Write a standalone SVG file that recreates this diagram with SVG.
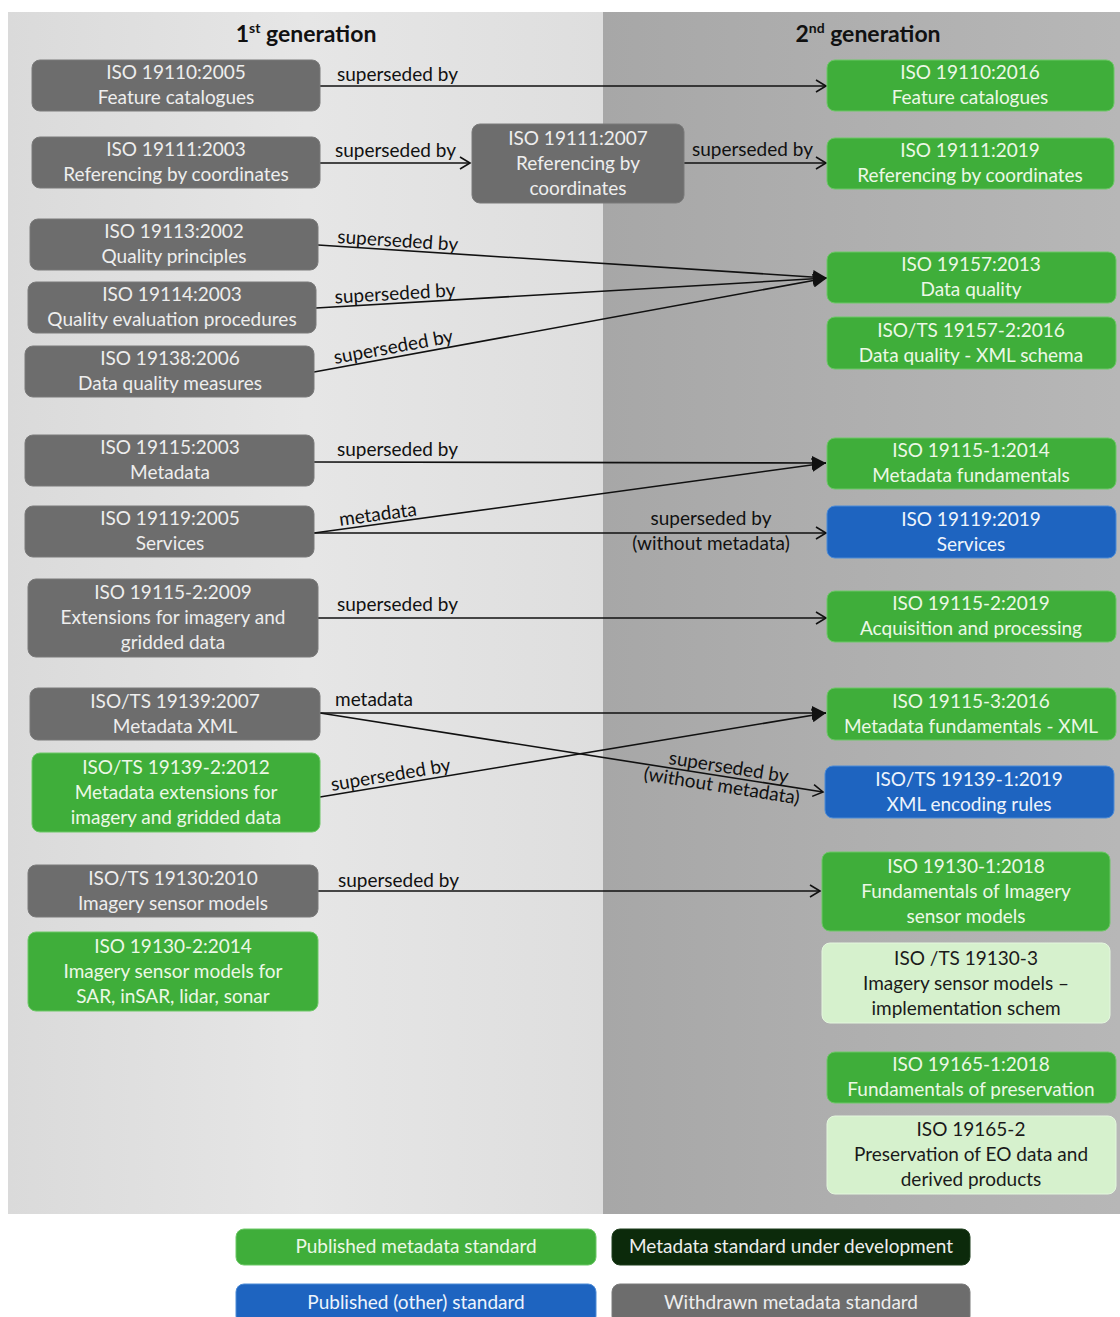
<svg xmlns="http://www.w3.org/2000/svg" width="1120" height="1317" viewBox="0 0 1120 1317">
  <defs>
    <linearGradient id="bgLeft" x1="0" y1="0" x2="1" y2="0">
      <stop offset="0" stop-color="#dadada"/>
      <stop offset="0.5" stop-color="#e6e6e6"/>
      <stop offset="1" stop-color="#dedede"/>
    </linearGradient>
    <linearGradient id="bgRight" x1="0" y1="0" x2="1" y2="0">
      <stop offset="0" stop-color="#a7a7a7"/>
      <stop offset="1" stop-color="#b7b7b7"/>
    </linearGradient>
    <marker id="arrowOpen" markerUnits="userSpaceOnUse" markerWidth="14" markerHeight="14" refX="11" refY="7" orient="auto">
      <path d="M1,1 L11,7 L1,13" fill="none" stroke="#111" stroke-width="1.6"/>
    </marker>
    <marker id="arrowSolid" markerUnits="userSpaceOnUse" markerWidth="16" markerHeight="14" refX="14" refY="7" orient="auto">
      <path d="M0,0 L14,7 L0,14 z" fill="#111"/>
    </marker>
  </defs>
  <style>
    .node rect { rx: 8px; ry: 8px; }
    .gray rect { fill: #6d6d6d; stroke: #7a7a7a; stroke-width: 1; }
    .green rect { fill: #3fae3a; stroke: #6cc866; stroke-width: 1; }
    .blue rect { fill: #1e64c0; stroke: #4c8bd6; stroke-width: 1; }
    .light rect { fill: #d6f1cd; stroke: #e4f7de; stroke-width: 1; }
    .dark rect { fill: #0c2a0b; stroke: #1f3f1e; stroke-width: 1; }
    .node text { font-family: Lato, "Liberation Sans", sans-serif; font-size: 19px; text-anchor: middle; fill: #eeeeee; }
    .green text { fill: #ecf8e6; }
    .blue text { fill: #eef4fc; }
    .light text { fill: #1a1a1a; }
    .head { font-family: Lato, "Liberation Sans", sans-serif; font-size: 23px; font-weight: bold; fill: #111; text-anchor: middle; }
    .lbl { font-family: Lato, "Liberation Sans", sans-serif; font-size: 19px; fill: #111; }
    .mid { text-anchor: middle; }
    #connectors line { stroke: #111; stroke-width: 1.6; fill: none; }
    .open { marker-end: url(#arrowOpen); }
    .solid { marker-end: url(#arrowSolid); }
  </style>

  <!-- page background and the two generation panels -->
  <rect x="0" y="0" width="1120" height="1317" fill="#ffffff"/>
  <rect x="8" y="12" width="596" height="1202" fill="url(#bgLeft)"/>
  <rect x="603" y="12" width="517" height="1202" fill="url(#bgRight)"/>

  <text class="head" x="306" y="42">1<tspan font-size="14" dy="-9">st</tspan><tspan dy="9"> generation</tspan></text>
  <text class="head" x="868" y="42">2<tspan font-size="14" dy="-9">nd</tspan><tspan dy="9"> generation</tspan></text>

  <!-- connectors -->
  <g id="connectors">
    <line class="open" x1="320" y1="86" x2="826" y2="86"/>
    <line class="open" x1="320" y1="163" x2="470" y2="163"/>
    <line class="open" x1="684" y1="163" x2="826" y2="163"/>
    <line class="solid" x1="318" y1="245" x2="827" y2="278"/>
    <line class="solid" x1="316" y1="308" x2="827" y2="278"/>
    <line class="solid" x1="314" y1="372" x2="827" y2="278"/>
    <line class="solid" x1="314" y1="462" x2="826" y2="463"/>
    <line class="solid" x1="314" y1="533" x2="826" y2="463"/>
    <line class="open" x1="314" y1="533" x2="826" y2="533"/>
    <line class="open" x1="318" y1="618" x2="826" y2="618"/>
    <line class="solid" x1="320" y1="713" x2="826" y2="713"/>
    <line class="solid" x1="320" y1="797" x2="826" y2="713"/>
    <line class="open" x1="320" y1="713" x2="823" y2="792"/>
    <line class="open" x1="318" y1="891" x2="820" y2="891"/>

    <text class="lbl" x="337" y="81">superseded by</text>
    <text class="lbl" x="335" y="157">superseded by</text>
    <text class="lbl" x="692" y="156">superseded by</text>
    <text class="lbl" transform="translate(337,243) rotate(3.7)">superseded by</text>
    <text class="lbl" transform="translate(335,303.5) rotate(-3.36)">superseded by</text>
    <text class="lbl" transform="translate(335,364) rotate(-10.38)">superseded by</text>
    <text class="lbl" x="337" y="456">superseded by</text>
    <text class="lbl" transform="translate(340,526) rotate(-7.78)">metadata</text>
    <text class="lbl mid" x="711" y="525">superseded by</text>
    <text class="lbl mid" x="711" y="550">(without metadata)</text>
    <text class="lbl" x="337" y="611">superseded by</text>
    <text class="lbl" x="335" y="706">metadata</text>
    <text class="lbl" transform="translate(332,791) rotate(-9.46)">superseded by</text>
    <text class="lbl" transform="translate(668,764) rotate(8.93)">superseded by</text>
    <text class="lbl" transform="translate(643,780) rotate(8.93)">(without metadata)</text>
    <text class="lbl" x="338" y="887">superseded by</text>
  </g>

  <!-- 1st generation -->
  <g id="iso19110-2005" class="node gray"><rect x="32" y="60" width="288" height="51"/><text x="176" y="79">ISO 19110:2005</text><text x="176" y="104">Feature catalogues</text></g>
  <g id="iso19111-2003" class="node gray"><rect x="32" y="137" width="288" height="51"/><text x="176" y="156">ISO 19111:2003</text><text x="176" y="181">Referencing by coordinates</text></g>
  <g id="iso19111-2007" class="node gray"><rect x="472" y="124" width="212" height="79"/><text x="578" y="145">ISO 19111:2007</text><text x="578" y="170">Referencing by</text><text x="578" y="195">coordinates</text></g>
  <g id="iso19113-2002" class="node gray"><rect x="30" y="219" width="288" height="51"/><text x="174" y="238">ISO 19113:2002</text><text x="174" y="263">Quality principles</text></g>
  <g id="iso19114-2003" class="node gray"><rect x="28" y="282" width="288" height="51"/><text x="172" y="301">ISO 19114:2003</text><text x="172" y="326">Quality evaluation procedures</text></g>
  <g id="iso19138-2006" class="node gray"><rect x="25" y="346" width="289" height="51"/><text x="170" y="365">ISO 19138:2006</text><text x="170" y="390">Data quality measures</text></g>
  <g id="iso19115-2003" class="node gray"><rect x="25" y="435" width="289" height="51"/><text x="170" y="454">ISO 19115:2003</text><text x="170" y="479">Metadata</text></g>
  <g id="iso19119-2005" class="node gray"><rect x="25" y="506" width="289" height="51"/><text x="170" y="525">ISO 19119:2005</text><text x="170" y="550">Services</text></g>
  <g id="iso19115-2-2009" class="node gray"><rect x="28" y="579" width="290" height="78"/><text x="173" y="599">ISO 19115-2:2009</text><text x="173" y="624">Extensions for imagery and</text><text x="173" y="649">gridded data</text></g>
  <g id="iso19139-2007" class="node gray"><rect x="30" y="688" width="290" height="52"/><text x="175" y="708">ISO/TS 19139:2007</text><text x="175" y="733">Metadata XML</text></g>
  <g id="iso19139-2-2012" class="node green"><rect x="32" y="753" width="288" height="79"/><text x="176" y="774">ISO/TS 19139-2:2012</text><text x="176" y="799">Metadata extensions for</text><text x="176" y="824">imagery and gridded data</text></g>
  <g id="iso19130-2010" class="node gray"><rect x="28" y="865" width="290" height="52"/><text x="173" y="885">ISO/TS 19130:2010</text><text x="173" y="910">Imagery sensor models</text></g>
  <g id="iso19130-2-2014" class="node green"><rect x="28" y="932" width="290" height="79"/><text x="173" y="953">ISO 19130-2:2014</text><text x="173" y="978">Imagery sensor models for</text><text x="173" y="1003">SAR, inSAR, lidar, sonar</text></g>

  <!-- 2nd generation -->
  <g id="iso19110-2016" class="node green"><rect x="827" y="60" width="287" height="51"/><text x="970" y="79">ISO 19110:2016</text><text x="970" y="104">Feature catalogues</text></g>
  <g id="iso19111-2019" class="node green"><rect x="827" y="138" width="287" height="51"/><text x="970" y="157">ISO 19111:2019</text><text x="970" y="182">Referencing by coordinates</text></g>
  <g id="iso19157-2013" class="node green"><rect x="827" y="252" width="289" height="51"/><text x="971" y="271">ISO 19157:2013</text><text x="971" y="296">Data quality</text></g>
  <g id="iso19157-2-2016" class="node green"><rect x="827" y="317" width="289" height="52"/><text x="971" y="337">ISO/TS 19157-2:2016</text><text x="971" y="362">Data quality - XML schema</text></g>
  <g id="iso19115-1-2014" class="node green"><rect x="827" y="438" width="289" height="51"/><text x="971" y="457">ISO 19115-1:2014</text><text x="971" y="482">Metadata fundamentals</text></g>
  <g id="iso19119-2019" class="node blue"><rect x="827" y="506" width="289" height="52"/><text x="971" y="526">ISO 19119:2019</text><text x="971" y="551">Services</text></g>
  <g id="iso19115-2-2019" class="node green"><rect x="827" y="591" width="289" height="51"/><text x="971" y="610">ISO 19115-2:2019</text><text x="971" y="635">Acquisition and processing</text></g>
  <g id="iso19115-3-2016" class="node green"><rect x="827" y="688" width="289" height="52"/><text x="971" y="708">ISO 19115-3:2016</text><text x="971" y="733">Metadata fundamentals - XML</text></g>
  <g id="iso19139-1-2019" class="node blue"><rect x="825" y="766" width="289" height="52"/><text x="969" y="786">ISO/TS 19139-1:2019</text><text x="969" y="811">XML encoding rules</text></g>
  <g id="iso19130-1-2018" class="node green"><rect x="822" y="852" width="288" height="79"/><text x="966" y="873">ISO 19130-1:2018</text><text x="966" y="898">Fundamentals of Imagery</text><text x="966" y="923">sensor models</text></g>
  <g id="iso19130-3" class="node light"><rect x="822" y="943" width="288" height="80"/><text x="966" y="965">ISO /TS 19130-3</text><text x="966" y="990">Imagery sensor models –</text><text x="966" y="1015">implementation schem</text></g>
  <g id="iso19165-1-2018" class="node green"><rect x="827" y="1052" width="289" height="51"/><text x="971" y="1071">ISO 19165-1:2018</text><text x="971" y="1096">Fundamentals of preservation</text></g>
  <g id="iso19165-2" class="node light"><rect x="827" y="1116" width="289" height="78"/><text x="971" y="1136">ISO 19165-2</text><text x="971" y="1161">Preservation of EO data and</text><text x="971" y="1186">derived products</text></g>

  <!-- legend -->
  <g id="legend-published" class="node green"><rect x="236" y="1229" width="360" height="36"/><text x="416" y="1253">Published metadata standard</text></g>
  <g id="legend-development" class="node dark"><rect x="612" y="1229" width="358" height="36"/><text x="791" y="1253">Metadata standard under development</text></g>
  <g id="legend-other" class="node blue"><rect x="236" y="1284" width="360" height="40"/><text x="416" y="1309">Published (other) standard</text></g>
  <g id="legend-withdrawn" class="node gray"><rect x="612" y="1284" width="358" height="40"/><text x="791" y="1309">Withdrawn metadata standard</text></g>
</svg>
